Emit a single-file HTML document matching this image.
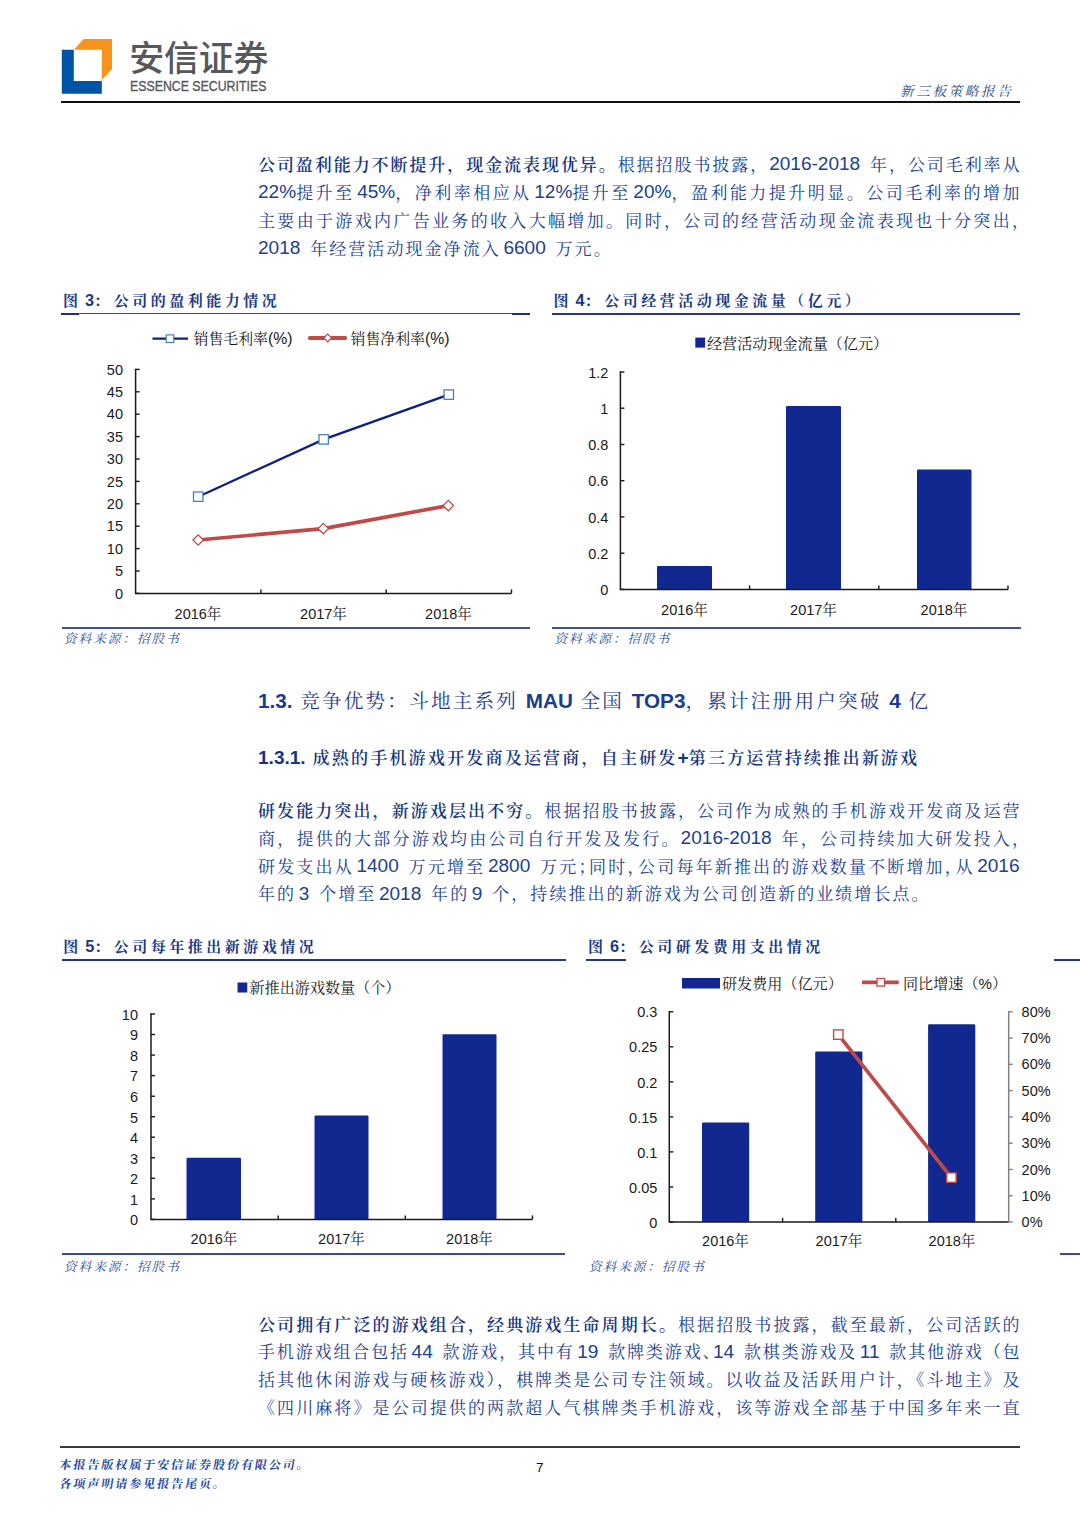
<!DOCTYPE html>
<html lang="zh-CN">
<head>
<meta charset="utf-8">
<title>新三板策略报告</title>
<style>
html,body{margin:0;padding:0;background:#fff;}
body{width:1080px;height:1527px;position:relative;overflow:hidden;text-spacing-trim:space-all;
  font-family:"Liberation Sans","Noto Serif CJK SC",serif;color:#1c3d8e;}
.abs{position:absolute;}
.kai{font-family:"Liberation Sans","Noto Serif CJK SC",serif;}
.hei{font-family:"Liberation Sans","Noto Sans CJK SC",sans-serif;}
.para{position:absolute;left:258px;width:762px;font-size:17px;line-height:27.9px;
  text-align:left;color:#1d3f90;white-space:nowrap;}
.para div{height:27.9px;}
.para b{font-weight:600;color:#17357f;}
.para .hp{margin-right:-8.5px;}
.para .ls{margin-left:-7.2px;}
.para .l{font-size:19.06px;letter-spacing:0;word-spacing:4.5px;line-height:0;position:relative;top:-0.9px;}
.ftitle{position:absolute;font-size:15px;line-height:20px;font-weight:700;color:#1b3a86;white-space:nowrap;letter-spacing:3.5px;}
.ftitle .n{letter-spacing:0;margin-left:-1px;font-size:16.3px;line-height:0;font-weight:700;}.ftitle .c{letter-spacing:4.5px;}
.src{position:absolute;font-size:12.6px;line-height:16px;font-style:italic;color:#2a4f9e;white-space:nowrap;letter-spacing:2.0px;}
svg{position:absolute;left:0;top:0;overflow:visible;}
svg text{font-family:"Liberation Sans","Noto Serif CJK SC",serif;fill:#1a1a1a;}
#h13 b{font-size:20.7px;letter-spacing:0;font-weight:700;line-height:0;}
#h131 b{font-size:19.06px;letter-spacing:0;font-weight:700;line-height:0;}
</style>
</head>
<body>

<!-- ===== header ===== -->
<svg width="1080" height="110" viewBox="0 0 1080 110">
  <polygon points="61.8,49.8 73.8,49.8 73.8,80.9 101.8,80.9 101.8,93.8 61.8,93.8" fill="#0054a6"/>
  <polygon points="83.6,39.1 112,39.1 112,68.9 101.8,80 101.8,49.8 73.8,49.8" fill="#f7941d"/>
</svg>
<div class="abs hei" id="logocn" style="left:129.3px;top:33.9px;font-size:35px;line-height:50px;font-weight:500;color:#58585b;white-space:nowrap;letter-spacing:-0.3px;">安信证券</div>
<div class="abs" id="logoen" style="left:130px;top:76px;font-size:14.6px;line-height:20px;color:#58585b;white-space:nowrap;transform-origin:0 50%;transform:scaleX(0.845);font-weight:400;-webkit-text-stroke:0.35px #58585b;">ESSENCE SECURITIES</div>
<div class="abs kai" id="hdr" style="left:900px;top:81.6px;font-size:13.6px;line-height:20px;color:#2a4b8f;white-space:nowrap;font-style:italic;letter-spacing:2.6px;">新三板策略报告</div>
<div class="abs" style="left:61px;top:101.4px;width:959px;height:2px;background:#111;"></div>

<!-- ===== paragraph 1 ===== -->
<div class="para" id="p1" style="top:151.9px;">
<div id="L1" style="letter-spacing:1.930px"><b>公司盈利能力不断提升，现金流表现优异。</b>根据招股书披露，<span class="l">2016-2018 </span>年，公司毛利率从</div>
<div id="L2" style="letter-spacing:2.472px"><span class="l">22%</span>提升至<span class="l ls"> 45%</span>，净利率相应从<span class="l ls"> 12%</span>提升至<span class="l ls"> 20%</span>，盈利能力提升明显。公司毛利率的增加</div>
<div id="L3" style="letter-spacing:2.333px">主要由于游戏内广告业务的收入大幅增加。同时，公司的经营活动现金流表现也十分突出，</div>
<div id="L4" style="letter-spacing:2.060px"><span class="l">2018 </span>年经营活动现金净流入<span class="l ls"> 6600 </span>万元。</div>
</div>

<!-- ===== figure titles row 1 ===== -->
<div class="ftitle" id="t3" style="left:63px;top:291.3px;">图<span class="n"> 3</span><span class="c">：</span>公司的盈利能力情况</div>
<div class="ftitle" id="t4" style="left:553.5px;top:291.3px;">图<span class="n"> 4</span><span class="c">：</span>公司经营活动现金流量（亿元）</div>

<!-- ===== headings ===== -->
<div class="abs" id="h13" style="left:258px;top:687.4px;font-size:19.6px;line-height:28px;color:#1c3d8e;white-space:nowrap;letter-spacing:2.2px;"><b>1.3.</b> 竞争优势：斗地主系列 <b>MAU</b> 全国 <b>TOP3</b>，累计注册用户突破 <b>4</b> 亿</div>
<div class="abs" id="h131" style="left:258px;top:746px;font-size:17.1px;line-height:26px;font-weight:600;color:#17357f;white-space:nowrap;letter-spacing:2.12px;"><b>1.3.1.</b> 成熟的手机游戏开发商及运营商，自主研发<b>+</b>第三方运营持续推出新游戏</div>

<!-- ===== paragraph 2 ===== -->
<div class="para" id="p2" style="top:797.8px;">
<div id="L5" style="letter-spacing:2.090px"><b>研发能力突出，新游戏层出不穷。</b>根据招股书披露，公司作为成熟的手机游戏开发商及运营</div>
<div id="L6" style="letter-spacing:2.209px">商，提供的大部分游戏均由公司自行开发及发行。<span class="l">2016-2018 </span>年，公司持续加大研发投入，</div>
<div id="L7" style="letter-spacing:2.165px">研发支出从<span class="l ls"> 1400 </span>万元增至<span class="l ls"> 2800 </span>万元<span class="hp">；</span>同时<span class="hp">，</span>公司每年新推出的游戏数量不断增加<span class="hp">，</span>从<span class="l ls"> 2016</span></div>
<div id="L8" style="letter-spacing:2.060px">年的<span class="l ls"> 3 </span>个增至<span class="l ls"> 2018 </span>年的<span class="l ls"> 9 </span>个，持续推出的新游戏为公司创造新的业绩增长点。</div>
</div>

<!-- ===== figure titles row 2 ===== -->
<div class="ftitle" id="t5" style="left:63.2px;top:936.7px;">图<span class="n"> 5</span><span class="c">：</span>公司每年推出新游戏情况</div>
<div class="ftitle" id="t6" style="left:588px;top:936.7px;">图<span class="n"> 6</span><span class="c">：</span>公司研发费用支出情况</div>

<!-- ===== paragraph 3 ===== -->
<div class="para" id="p3" style="top:1311.5px;">
<div id="L9" style="letter-spacing:2.090px"><b>公司拥有广泛的游戏组合，经典游戏生命周期长。</b>根据招股书披露，截至最新，公司活跃的</div>
<div id="L10" style="letter-spacing:1.868px">手机游戏组合包括<span class="l ls"> 44 </span>款游戏，其中有<span class="l ls"> 19 </span>款牌类游戏<span class="hp">、</span><span class="l">14 </span>款棋类游戏及<span class="l ls"> 11 </span>款其他游戏（包</div>
<div id="L11" style="letter-spacing:2.038px">括其他休闲游戏与硬核游戏<span class="hp">）</span>，棋牌类是公司专注领域。以收益及活跃用户计<span class="hp">，</span>《斗地主》及</div>
<div id="L12" style="letter-spacing:2.090px">《四川麻将》是公司提供的两款超人气棋牌类手机游戏，该等游戏全部基于中国多年来一直</div>
</div>

<!-- ===== footer ===== -->
<div class="abs" style="left:60px;top:1446.1px;width:960px;height:1.8px;background:#3a3a3a;"></div>
<div class="abs kai" id="f1" style="left:58px;top:1457px;font-size:12px;letter-spacing:1.97px;line-height:17px;font-weight:700;font-style:normal;transform:skewX(-9deg);transform-origin:0 100%;color:#1e4a9e;white-space:nowrap;">本报告版权属于安信证券股份有限公司。</div>
<div class="abs kai" id="f2" style="left:58px;top:1475.5px;font-size:12px;letter-spacing:1.97px;line-height:17px;font-weight:700;font-style:normal;transform:skewX(-9deg);transform-origin:0 100%;color:#1e4a9e;white-space:nowrap;">各项声明请参见报告尾页。</div>
<div class="abs" id="pn" style="left:536px;top:1459px;font-size:13.5px;line-height:17px;color:#111;">7</div>

<!--CHARTS-->
<div class="abs" style="left:61.2px;top:312.9px;width:468.6px;height:1.3px;background:#34468f;"></div>
<div class="abs" style="left:61.2px;top:312.8px;width:18.2px;height:2.2px;background:#1f2f72;"></div>
<div class="abs" style="left:512px;top:312.8px;width:17.8px;height:2.2px;background:#1f2f72;"></div>
<div class="abs" style="left:552.2px;top:312.6px;width:468.3px;height:2.2px;background:#27387e;"></div>
<div class="abs" style="left:62px;top:627.2px;width:468.0px;height:1.8px;background:#40519f;"></div>
<div class="abs" style="left:552px;top:627.2px;width:468.5px;height:1.8px;background:#40519f;"></div>
<div class="abs" style="left:61.5px;top:959.3px;width:504.0px;height:2.0px;background:#27387e;"></div>
<div class="abs" style="left:585.6px;top:959.3px;width:40.4px;height:2.0px;background:#27387e;"></div>
<div class="abs" style="left:1054px;top:959.3px;width:26.0px;height:2.0px;background:#27387e;"></div>
<div class="abs" style="left:61.9px;top:1253.0px;width:503.6px;height:1.9px;background:#3a4c9c;"></div>
<div class="abs" style="left:1060px;top:1253.0px;width:20.0px;height:1.9px;background:#3a4c9c;"></div>
<svg id="c3" width="1080" height="1527" viewBox="0 0 1080 1527"><path d="M135.6 368.7V593.4H511.5" fill="none" stroke="#1a1a1a" stroke-width="1.5"/><line x1="135.6" y1="593.4" x2="139.6" y2="593.4" stroke="#1a1a1a" stroke-width="1.4"/><text x="123" y="598.5" text-anchor="end" font-size="14.5" fill="#1a1a1a">0</text><line x1="135.6" y1="571.0" x2="139.6" y2="571.0" stroke="#1a1a1a" stroke-width="1.4"/><text x="123" y="576.1" text-anchor="end" font-size="14.5" fill="#1a1a1a">5</text><line x1="135.6" y1="548.6" x2="139.6" y2="548.6" stroke="#1a1a1a" stroke-width="1.4"/><text x="123" y="553.7" text-anchor="end" font-size="14.5" fill="#1a1a1a">10</text><line x1="135.6" y1="526.2" x2="139.6" y2="526.2" stroke="#1a1a1a" stroke-width="1.4"/><text x="123" y="531.3" text-anchor="end" font-size="14.5" fill="#1a1a1a">15</text><line x1="135.6" y1="503.8" x2="139.6" y2="503.8" stroke="#1a1a1a" stroke-width="1.4"/><text x="123" y="508.9" text-anchor="end" font-size="14.5" fill="#1a1a1a">20</text><line x1="135.6" y1="481.4" x2="139.6" y2="481.4" stroke="#1a1a1a" stroke-width="1.4"/><text x="123" y="486.5" text-anchor="end" font-size="14.5" fill="#1a1a1a">25</text><line x1="135.6" y1="459.0" x2="139.6" y2="459.0" stroke="#1a1a1a" stroke-width="1.4"/><text x="123" y="464.1" text-anchor="end" font-size="14.5" fill="#1a1a1a">30</text><line x1="135.6" y1="436.6" x2="139.6" y2="436.6" stroke="#1a1a1a" stroke-width="1.4"/><text x="123" y="441.7" text-anchor="end" font-size="14.5" fill="#1a1a1a">35</text><line x1="135.6" y1="414.2" x2="139.6" y2="414.2" stroke="#1a1a1a" stroke-width="1.4"/><text x="123" y="419.3" text-anchor="end" font-size="14.5" fill="#1a1a1a">40</text><line x1="135.6" y1="391.8" x2="139.6" y2="391.8" stroke="#1a1a1a" stroke-width="1.4"/><text x="123" y="396.9" text-anchor="end" font-size="14.5" fill="#1a1a1a">45</text><line x1="135.6" y1="369.4" x2="139.6" y2="369.4" stroke="#1a1a1a" stroke-width="1.4"/><text x="123" y="374.5" text-anchor="end" font-size="14.5" fill="#1a1a1a">50</text><line x1="260.9" y1="593.4" x2="260.9" y2="589.4" stroke="#1a1a1a" stroke-width="1.4"/><line x1="386.2" y1="593.4" x2="386.2" y2="589.4" stroke="#1a1a1a" stroke-width="1.4"/><line x1="511.5" y1="593.4" x2="511.5" y2="589.4" stroke="#1a1a1a" stroke-width="1.4"/><text x="198.0" y="618.5" text-anchor="middle" font-size="14.5">2016年</text><text x="323.5" y="618.5" text-anchor="middle" font-size="14.5">2017年</text><text x="448.5" y="618.5" text-anchor="middle" font-size="14.5">2018年</text><polyline points="198.2,540 323.3,528.6 448.3,505.6" fill="none" stroke="#be4b48" stroke-width="3.7" stroke-linejoin="round"/><polyline points="198.2,496.7 323.7,439.4 448.8,394.6" fill="none" stroke="#10207f" stroke-width="2.3"/><rect x="193.5" y="492.0" width="9.4" height="9.4" fill="#fff" stroke="#4a7ebb" stroke-width="1.3"/><rect x="319.0" y="434.7" width="9.4" height="9.4" fill="#fff" stroke="#4a7ebb" stroke-width="1.3"/><rect x="444.1" y="389.90000000000003" width="9.4" height="9.4" fill="#fff" stroke="#4a7ebb" stroke-width="1.3"/><path d="M193.0 540L198.2 534.8L203.39999999999998 540L198.2 545.2Z" fill="#fff" stroke="#be4b48" stroke-width="1.3"/><path d="M318.1 528.6L323.3 523.4L328.5 528.6L323.3 533.8000000000001Z" fill="#fff" stroke="#be4b48" stroke-width="1.3"/><path d="M443.1 505.6L448.3 500.40000000000003L453.5 505.6L448.3 510.8Z" fill="#fff" stroke="#be4b48" stroke-width="1.3"/><line x1="152.5" y1="338.7" x2="188" y2="338.7" stroke="#10207f" stroke-width="2.3"/><rect x="166.2" y="334.9" width="7.6" height="7.6" fill="#fff" stroke="#4a7ebb" stroke-width="1.2"/><text x="193.5" y="343.8" font-size="14.9">销售毛利率<tspan font-size="15.8">(%)</tspan></text><line x1="309.8" y1="338" x2="345.2" y2="338" stroke="#be4b48" stroke-width="3.9" stroke-linecap="round"/><path d="M323.7 338L327.7 334L331.7 338L327.7 342Z" fill="#fff" stroke="#be4b48" stroke-width="1.2"/><text x="350.5" y="343.8" font-size="14.9">销售净利率<tspan font-size="15.8">(%)</tspan></text></svg>
<svg id="c4" width="1080" height="1527" viewBox="0 0 1080 1527"><rect x="657.0" y="565.9" width="55.0" height="23.5" rx="1.2" fill="#102890"/><rect x="786.0" y="406.0" width="55.0" height="183.4" rx="1.2" fill="#102890"/><rect x="917.0" y="469.6" width="54.5" height="119.8" rx="1.2" fill="#102890"/><path d="M620.4 371.3V589.4H1008" fill="none" stroke="#1a1a1a" stroke-width="1.5"/><line x1="620.4" y1="589.4" x2="624.4" y2="589.4" stroke="#1a1a1a" stroke-width="1.4"/><text x="608.3" y="595.0" text-anchor="end" font-size="14.5" fill="#1a1a1a">0</text><line x1="620.4" y1="553.2" x2="624.4" y2="553.2" stroke="#1a1a1a" stroke-width="1.4"/><text x="608.3" y="558.8" text-anchor="end" font-size="14.5" fill="#1a1a1a">0.2</text><line x1="620.4" y1="516.9" x2="624.4" y2="516.9" stroke="#1a1a1a" stroke-width="1.4"/><text x="608.3" y="522.5" text-anchor="end" font-size="14.5" fill="#1a1a1a">0.4</text><line x1="620.4" y1="480.7" x2="624.4" y2="480.7" stroke="#1a1a1a" stroke-width="1.4"/><text x="608.3" y="486.3" text-anchor="end" font-size="14.5" fill="#1a1a1a">0.6</text><line x1="620.4" y1="444.5" x2="624.4" y2="444.5" stroke="#1a1a1a" stroke-width="1.4"/><text x="608.3" y="450.1" text-anchor="end" font-size="14.5" fill="#1a1a1a">0.8</text><line x1="620.4" y1="408.2" x2="624.4" y2="408.2" stroke="#1a1a1a" stroke-width="1.4"/><text x="608.3" y="413.8" text-anchor="end" font-size="14.5" fill="#1a1a1a">1</text><line x1="620.4" y1="372.0" x2="624.4" y2="372.0" stroke="#1a1a1a" stroke-width="1.4"/><text x="608.3" y="377.6" text-anchor="end" font-size="14.5" fill="#1a1a1a">1.2</text><line x1="749.6" y1="589.4" x2="749.6" y2="585.4" stroke="#1a1a1a" stroke-width="1.4"/><line x1="878.8" y1="589.4" x2="878.8" y2="585.4" stroke="#1a1a1a" stroke-width="1.4"/><line x1="1008.0" y1="589.4" x2="1008.0" y2="585.4" stroke="#1a1a1a" stroke-width="1.4"/><text x="684.5" y="614.5" text-anchor="middle" font-size="14.5">2016年</text><text x="813.5" y="614.5" text-anchor="middle" font-size="14.5">2017年</text><text x="944.0" y="614.5" text-anchor="middle" font-size="14.5">2018年</text><rect x="695.3" y="337.6" width="9.8" height="10" fill="#102890"/><text x="707" y="348.5" font-size="15.1">经营活动现金流量（亿元）</text></svg>
<svg id="c5" width="1080" height="1527" viewBox="0 0 1080 1527"><rect x="186.5" y="1157.8" width="54.5" height="61.6" rx="1.2" fill="#102890"/><rect x="314.5" y="1115.5" width="54.0" height="103.9" rx="1.2" fill="#102890"/><rect x="442.5" y="1034.2" width="54.0" height="185.2" rx="1.2" fill="#102890"/><path d="M151 1013.3V1219.4H532.5" fill="none" stroke="#1a1a1a" stroke-width="1.5"/><line x1="151" y1="1219.4" x2="155" y2="1219.4" stroke="#1a1a1a" stroke-width="1.4"/><text x="138" y="1225.2" text-anchor="end" font-size="14.5" fill="#1a1a1a">0</text><line x1="151" y1="1198.9" x2="155" y2="1198.9" stroke="#1a1a1a" stroke-width="1.4"/><text x="138" y="1204.7" text-anchor="end" font-size="14.5" fill="#1a1a1a">1</text><line x1="151" y1="1178.3" x2="155" y2="1178.3" stroke="#1a1a1a" stroke-width="1.4"/><text x="138" y="1184.1" text-anchor="end" font-size="14.5" fill="#1a1a1a">2</text><line x1="151" y1="1157.8" x2="155" y2="1157.8" stroke="#1a1a1a" stroke-width="1.4"/><text x="138" y="1163.6" text-anchor="end" font-size="14.5" fill="#1a1a1a">3</text><line x1="151" y1="1137.2" x2="155" y2="1137.2" stroke="#1a1a1a" stroke-width="1.4"/><text x="138" y="1143.0" text-anchor="end" font-size="14.5" fill="#1a1a1a">4</text><line x1="151" y1="1116.7" x2="155" y2="1116.7" stroke="#1a1a1a" stroke-width="1.4"/><text x="138" y="1122.5" text-anchor="end" font-size="14.5" fill="#1a1a1a">5</text><line x1="151" y1="1096.2" x2="155" y2="1096.2" stroke="#1a1a1a" stroke-width="1.4"/><text x="138" y="1102.0" text-anchor="end" font-size="14.5" fill="#1a1a1a">6</text><line x1="151" y1="1075.6" x2="155" y2="1075.6" stroke="#1a1a1a" stroke-width="1.4"/><text x="138" y="1081.4" text-anchor="end" font-size="14.5" fill="#1a1a1a">7</text><line x1="151" y1="1055.1" x2="155" y2="1055.1" stroke="#1a1a1a" stroke-width="1.4"/><text x="138" y="1060.9" text-anchor="end" font-size="14.5" fill="#1a1a1a">8</text><line x1="151" y1="1034.5" x2="155" y2="1034.5" stroke="#1a1a1a" stroke-width="1.4"/><text x="138" y="1040.3" text-anchor="end" font-size="14.5" fill="#1a1a1a">9</text><line x1="151" y1="1014.0" x2="155" y2="1014.0" stroke="#1a1a1a" stroke-width="1.4"/><text x="138" y="1019.8" text-anchor="end" font-size="14.5" fill="#1a1a1a">10</text><line x1="278.2" y1="1219.4" x2="278.2" y2="1215.4" stroke="#1a1a1a" stroke-width="1.4"/><line x1="405.3" y1="1219.4" x2="405.3" y2="1215.4" stroke="#1a1a1a" stroke-width="1.4"/><line x1="532.5" y1="1219.4" x2="532.5" y2="1215.4" stroke="#1a1a1a" stroke-width="1.4"/><text x="214.0" y="1243.5" text-anchor="middle" font-size="14.5">2016年</text><text x="341.5" y="1243.5" text-anchor="middle" font-size="14.5">2017年</text><text x="469.5" y="1243.5" text-anchor="middle" font-size="14.5">2018年</text><rect x="237.5" y="982.5" width="9.8" height="10" fill="#102890"/><text x="249.5" y="993.3" font-size="15.1">新推出游戏数量（个）</text></svg>
<svg id="c6" width="1080" height="1527" viewBox="0 0 1080 1527"><rect x="702.0" y="1122.5" width="47.2" height="99.5" rx="1.2" fill="#102890"/><rect x="815.2" y="1051.6" width="47.2" height="170.4" rx="1.2" fill="#102890"/><rect x="928.1" y="1024.3" width="47.2" height="197.7" rx="1.2" fill="#102890"/><path d="M669.3 1011.0999999999999V1222H1008.7" fill="none" stroke="#1a1a1a" stroke-width="1.5"/><path d="M1008.7 1011.0999999999999V1222" stroke="#808080" stroke-width="1.5" fill="none"/><line x1="669.3" y1="1222.0" x2="673.3" y2="1222.0" stroke="#1a1a1a" stroke-width="1.4"/><text x="657.3" y="1227.6" text-anchor="end" font-size="14.5" fill="#1a1a1a">0</text><line x1="669.3" y1="1187.0" x2="673.3" y2="1187.0" stroke="#1a1a1a" stroke-width="1.4"/><text x="657.3" y="1192.6" text-anchor="end" font-size="14.5" fill="#1a1a1a">0.05</text><line x1="669.3" y1="1151.9" x2="673.3" y2="1151.9" stroke="#1a1a1a" stroke-width="1.4"/><text x="657.3" y="1157.5" text-anchor="end" font-size="14.5" fill="#1a1a1a">0.1</text><line x1="669.3" y1="1116.9" x2="673.3" y2="1116.9" stroke="#1a1a1a" stroke-width="1.4"/><text x="657.3" y="1122.5" text-anchor="end" font-size="14.5" fill="#1a1a1a">0.15</text><line x1="669.3" y1="1081.9" x2="673.3" y2="1081.9" stroke="#1a1a1a" stroke-width="1.4"/><text x="657.3" y="1087.5" text-anchor="end" font-size="14.5" fill="#1a1a1a">0.2</text><line x1="669.3" y1="1046.8" x2="673.3" y2="1046.8" stroke="#1a1a1a" stroke-width="1.4"/><text x="657.3" y="1052.4" text-anchor="end" font-size="14.5" fill="#1a1a1a">0.25</text><line x1="669.3" y1="1011.8" x2="673.3" y2="1011.8" stroke="#1a1a1a" stroke-width="1.4"/><text x="657.3" y="1017.4" text-anchor="end" font-size="14.5" fill="#1a1a1a">0.3</text><line x1="1008.7" y1="1222.0" x2="1012.7" y2="1222.0" stroke="#808080" stroke-width="1.4"/><text x="1021.6" y="1227.1" text-anchor="start" font-size="14.5" fill="#1a1a1a">0%</text><line x1="1008.7" y1="1195.7" x2="1012.7" y2="1195.7" stroke="#808080" stroke-width="1.4"/><text x="1021.6" y="1200.8" text-anchor="start" font-size="14.5" fill="#1a1a1a">10%</text><line x1="1008.7" y1="1169.5" x2="1012.7" y2="1169.5" stroke="#808080" stroke-width="1.4"/><text x="1021.6" y="1174.5" text-anchor="start" font-size="14.5" fill="#1a1a1a">20%</text><line x1="1008.7" y1="1143.2" x2="1012.7" y2="1143.2" stroke="#808080" stroke-width="1.4"/><text x="1021.6" y="1148.3" text-anchor="start" font-size="14.5" fill="#1a1a1a">30%</text><line x1="1008.7" y1="1116.9" x2="1012.7" y2="1116.9" stroke="#808080" stroke-width="1.4"/><text x="1021.6" y="1122.0" text-anchor="start" font-size="14.5" fill="#1a1a1a">40%</text><line x1="1008.7" y1="1090.6" x2="1012.7" y2="1090.6" stroke="#808080" stroke-width="1.4"/><text x="1021.6" y="1095.7" text-anchor="start" font-size="14.5" fill="#1a1a1a">50%</text><line x1="1008.7" y1="1064.3" x2="1012.7" y2="1064.3" stroke="#808080" stroke-width="1.4"/><text x="1021.6" y="1069.4" text-anchor="start" font-size="14.5" fill="#1a1a1a">60%</text><line x1="1008.7" y1="1038.1" x2="1012.7" y2="1038.1" stroke="#808080" stroke-width="1.4"/><text x="1021.6" y="1043.2" text-anchor="start" font-size="14.5" fill="#1a1a1a">70%</text><line x1="1008.7" y1="1011.8" x2="1012.7" y2="1011.8" stroke="#808080" stroke-width="1.4"/><text x="1021.6" y="1016.9" text-anchor="start" font-size="14.5" fill="#1a1a1a">80%</text><line x1="782.6" y1="1222" x2="782.6" y2="1218" stroke="#1a1a1a" stroke-width="1.4"/><line x1="895.8" y1="1222" x2="895.8" y2="1218" stroke="#1a1a1a" stroke-width="1.4"/><text x="725.5" y="1246" text-anchor="middle" font-size="14.5">2016年</text><text x="839.0" y="1246" text-anchor="middle" font-size="14.5">2017年</text><text x="952.0" y="1246" text-anchor="middle" font-size="14.5">2018年</text><polyline points="838.3,1034.6 951.4,1177.6" fill="none" stroke="#be4b48" stroke-width="3.7"/><rect x="833.5999999999999" y="1029.8999999999999" width="9.4" height="9.4" fill="#fff" stroke="#be4b48" stroke-width="1.4"/><rect x="946.6999999999999" y="1172.8999999999999" width="9.4" height="9.4" fill="#fff" stroke="#be4b48" stroke-width="1.4"/><rect x="682" y="978" width="38" height="10.5" fill="#102890"/><text x="722" y="988.8" font-size="15.1">研发费用（亿元）</text><line x1="862" y1="982.3" x2="898.7" y2="982.3" stroke="#be4b48" stroke-width="3.7"/><rect x="877" y="978.5" width="7.6" height="7.6" fill="#fff" stroke="#be4b48" stroke-width="1.3"/><text x="903" y="988.8" font-size="15.1">同比增速（%）</text></svg>
<div class="src" id="s3" style="left:64px;top:631.4px;">资料来源：招股书</div>
<div class="src" id="s4" style="left:554.5px;top:631.4px;">资料来源：招股书</div>
<div class="src" id="s5" style="left:64px;top:1259.1px;">资料来源：招股书</div>
<div class="src" id="s6" style="left:589px;top:1259.1px;">资料来源：招股书</div>
<!--/CHARTS-->
</body>
</html>
